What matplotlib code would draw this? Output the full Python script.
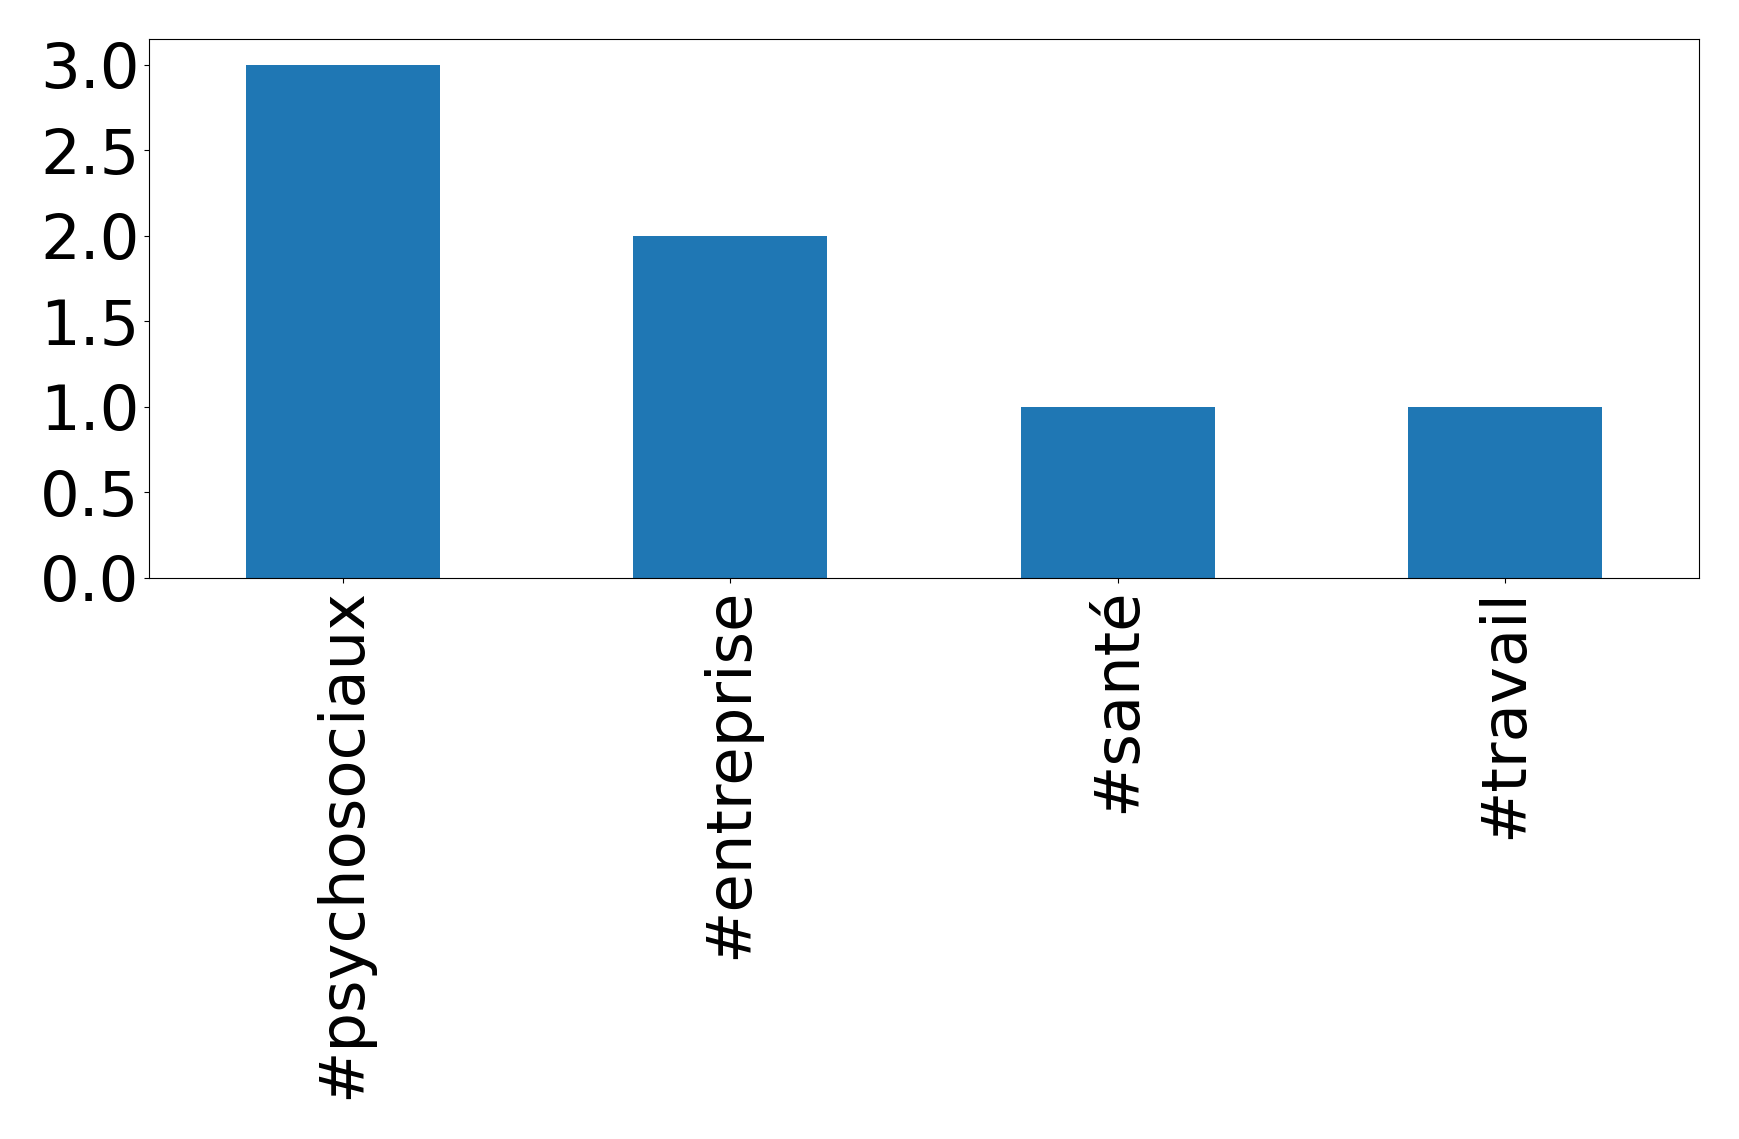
import matplotlib
matplotlib.use("Agg")
import matplotlib.pyplot as plt

categories = ["#psychosociaux", "#entreprise", "#santé", "#travail"]
counts = [3, 2, 1, 1]

W, H = 1739, 1139
fig = plt.figure(figsize=(W/100, H/100), dpi=100)
ax = fig.add_axes([149/W, 1 - 578/H, (1699-149)/W, (578-39)/H])
x = range(len(categories))
ax.bar(x, counts, width=0.5, color="#1f77b4")
ax.set_xlim(-0.5, len(categories) - 0.5)
ax.set_ylim(0, 3.15)
ax.set_xticks(list(x))
ax.set_xticklabels(categories, rotation=90)
ax.set_yticks([0, 0.5, 1.0, 1.5, 2.0, 2.5, 3.0])
ax.set_yticklabels(["0.0", "0.5", "1.0", "1.5", "2.0", "2.5", "3.0"])
ax.tick_params(labelsize=45)
fig.savefig("out.png", dpi=100)
